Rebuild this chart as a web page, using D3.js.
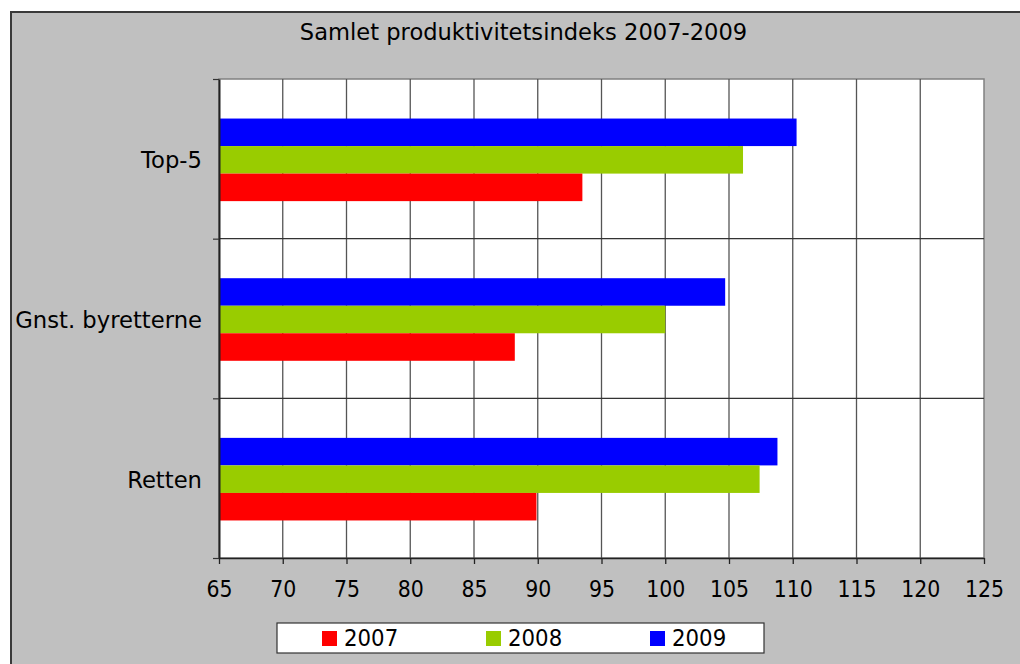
<!DOCTYPE html>
<html><head><meta charset="utf-8">
<script src="https://cdn.jsdelivr.net/npm/d3@7"></script>
<style>
html,body{margin:0;padding:0;background:#fff;}
text{font-family:"DejaVu Sans",Verdana,sans-serif;fill:#000;}
</style></head>
<body><svg id="c" width="1020" height="664"></svg>
<script>
const title = "Samlet produktivitetsindeks 2007-2009";
const categories = ["Top-5", "Gnst. byretterne", "Retten"];
const years = ["2009", "2008", "2007"];
const legendYears = ["2007", "2008", "2009"];
const v2007 = [93.5, 88.2, 89.9];
const v2008 = [106.1, 100.0, 107.4];
const v2009 = [110.3, 104.7, 108.8];
const xTicks = [65,70,75,80,85,90,95,100,105,110,115,120,125];
const colors = {"2007":"#ff0000","2008":"#99cc00","2009":"#0000ff"};

const series = {"2007":v2007,"2008":v2008,"2009":v2009};
const svg = d3.select("#c");
const capH = 16.7;
const sY = fs => capH/(0.729*fs);

// outer chart area
svg.append("rect").attr("x",11).attr("y",12).attr("width",1030).attr("height",700)
  .attr("fill","#c0c0c0").attr("stroke","#3a3a3a").attr("stroke-width",2);

const L=219,R=984,T=79,B=558;
const x = d3.scaleLinear().domain([65,125]).range([L,R]);
const y = d3.scaleBand().domain(categories).range([T,B]).padding(0);
const yb = d3.scaleLinear().domain([0,3]).range([T,B]);
const yi = d3.scaleBand().domain(years).range([0,y.bandwidth()]).paddingInner(0).paddingOuter(1.4);

svg.append("rect").attr("x",L).attr("y",T).attr("width",R-L).attr("height",B-T)
  .attr("fill","#fff").attr("stroke","#808080").attr("stroke-width",1.5);

// vertical gridlines
svg.append("g").selectAll("line").data(xTicks.slice(1,-1)).join("line")
  .attr("x1",d=>x(d)).attr("x2",d=>x(d)).attr("y1",T).attr("y2",B)
  .attr("stroke","#555").attr("stroke-width",1.3);
// horizontal category boundaries
svg.append("g").selectAll("line").data([1,2]).join("line")
  .attr("x1",L).attr("x2",R).attr("y1",d=>yb(d)).attr("y2",d=>yb(d))
  .attr("stroke","#333").attr("stroke-width",1.2);

// bars
const rows = [];
categories.forEach((c,i)=>years.forEach(yr=>rows.push({c,yr,v:series[yr][i]})));
svg.append("g").selectAll("rect").data(rows).join("rect")
  .attr("x",x(65)).attr("y",d=>y(d.c)+yi(d.yr)+1)
  .attr("width",d=>x(d.v)-x(65)).attr("height",yi.bandwidth())
  .attr("fill",d=>colors[d.yr]);

// x axis
const fsT=20.5;
const gx = svg.append("g").attr("transform",`translate(0,${B})`)
  .call(d3.axisBottom(x).tickValues(xTicks).tickSize(6).tickSizeOuter(0));
gx.select(".domain").attr("stroke","#222").attr("stroke-width",1.6);
gx.selectAll(".tick line").attr("stroke","#222").attr("stroke-width",1.3);
gx.selectAll(".tick text").attr("y",0).attr("dy",0)
  .attr("transform",`translate(0,${596.7-B}) scale(1,${sY(fsT)})`)
  .style("font-size",fsT+"px").style("font-family","DejaVu Sans");

// y axis boundary ticks
const gy = svg.append("g").attr("transform",`translate(${L},0)`)
  .call(d3.axisLeft(yb).tickValues([0,1,2,3]).tickFormat("").tickSize(6).tickSizeOuter(0));
gy.select(".domain").attr("stroke","#222").attr("stroke-width",2);
gy.selectAll(".tick line").attr("stroke","#333").attr("stroke-width",1.2);

// category labels
const fsL=22.7;
const gl = svg.append("g").attr("transform",`translate(${L},0)`)
  .call(d3.axisLeft(y).tickSize(0).tickPadding(17));
gl.select(".domain").remove();
gl.selectAll(".tick text").attr("x",0).attr("dy",0)
  .attr("transform",`translate(-17,${1+capH/2}) scale(1,${sY(fsL)})`)
  .style("font-size",fsL+"px").style("font-family","DejaVu Sans");

// title
const fsH=22.6;
svg.append("text").text(title).attr("text-anchor","middle")
  .attr("transform",`translate(523.5,40) scale(1,${sY(fsH)})`)
  .style("font-size",fsH+"px");

// legend
svg.append("rect").attr("x",277).attr("y",623).attr("width",487).attr("height",30)
  .attr("fill","#fff").attr("stroke","#333").attr("stroke-width",1.2);
const fsG=21.3;
const lg = svg.append("g").selectAll("g").data(legendYears).join("g")
  .attr("transform",(d,i)=>`translate(${322+i*164},0)`);
lg.append("rect").attr("x",0).attr("y",631).attr("width",15).attr("height",15)
  .attr("fill",d=>colors[d]);
lg.append("text").text(d=>d)
  .attr("transform",`translate(22,646) scale(1,${sY(fsG)})`)
  .style("font-size",fsG+"px");
</script></body></html>
